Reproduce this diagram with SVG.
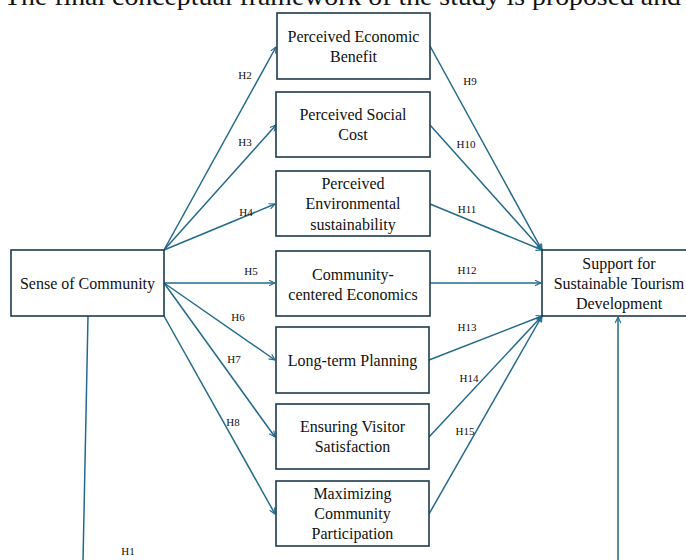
<svg xmlns="http://www.w3.org/2000/svg" width="686" height="560" viewBox="0 0 686 560">
<style>
.box{fill:#fff;stroke:#1d3a4d;stroke-width:1.6}
.t{font-family:"Liberation Serif","Times New Roman",serif;font-size:16px;fill:#111;text-anchor:middle}
.h{font-family:"Liberation Serif","Times New Roman",serif;font-size:11px;fill:#111;text-anchor:middle}
.c{stroke:#236a8c;stroke-width:1.5;fill:none;marker-end:url(#arr)}
.title{font-family:"Liberation Serif","Times New Roman",serif;font-size:25px;fill:#111}
</style>
<defs>
<marker id="arr" viewBox="0 0 10 10" refX="9.5" refY="5" markerWidth="7" markerHeight="7" markerUnits="userSpaceOnUse" orient="auto">
<path d="M1,1 L9.5,5 L1,9" fill="none" stroke="#236a8c" stroke-width="1.6"/>
</marker>
</defs>
<rect width="686" height="560" fill="#fff"/>
<text class="title" x="4" y="5" textLength="677" lengthAdjust="spacingAndGlyphs">The final conceptual framework of the study is proposed and</text>

<g id="connectors">
<line class="c" x1="88" y1="316" x2="83" y2="562" style="marker-end:none"/>
<line class="c" x1="618" y1="562" x2="618" y2="317"/>
<line class="c" x1="164" y1="250" x2="276" y2="47"/>
<line class="c" x1="164" y1="250" x2="276" y2="125"/>
<line class="c" x1="164" y1="250" x2="275" y2="204"/>
<line class="c" x1="164" y1="283" x2="275" y2="283"/>
<line class="c" x1="164" y1="283" x2="275" y2="360"/>
<line class="c" x1="164" y1="283" x2="275" y2="437"/>
<line class="c" x1="164" y1="316" x2="275" y2="514"/>
<line class="c" x1="430" y1="46" x2="542" y2="250"/>
<line class="c" x1="430" y1="125" x2="542" y2="250"/>
<line class="c" x1="430" y1="204" x2="542" y2="250"/>
<line class="c" x1="430" y1="283" x2="541" y2="283"/>
<line class="c" x1="429" y1="360" x2="542" y2="316"/>
<line class="c" x1="429" y1="437" x2="542" y2="316"/>
<line class="c" x1="429" y1="514" x2="542" y2="316"/>
</g>

<g id="labels">
<text class="h" x="128" y="555">H1</text>
<text class="h" x="245" y="79">H2</text>
<text class="h" x="245" y="146">H3</text>
<text class="h" x="246" y="216">H4</text>
<text class="h" x="251" y="275">H5</text>
<text class="h" x="238" y="321">H6</text>
<text class="h" x="234" y="363">H7</text>
<text class="h" x="233" y="426">H8</text>
<text class="h" x="470" y="85">H9</text>
<text class="h" x="466" y="148">H10</text>
<text class="h" x="467" y="213">H11</text>
<text class="h" x="467" y="274">H12</text>
<text class="h" x="467" y="331">H13</text>
<text class="h" x="469" y="382">H14</text>
<text class="h" x="465" y="435">H15</text>
</g>

<g id="sense">
<rect class="box" x="11" y="250" width="153" height="66"/>
<text class="t" x="87.5" y="289">Sense of Community</text>
</g>
<g id="peb">
<rect class="box" x="277" y="13" width="153" height="66"/>
<text class="t" x="353.5" y="42">Perceived Economic</text>
<text class="t" x="353.5" y="62">Benefit</text>
</g>
<g id="psc">
<rect class="box" x="276" y="92" width="154" height="65"/>
<text class="t" x="353" y="120">Perceived Social</text>
<text class="t" x="353" y="140">Cost</text>
</g>
<g id="pes">
<rect class="box" x="276" y="171" width="154" height="65"/>
<text class="t" x="353" y="189">Perceived</text>
<text class="t" x="353" y="209">Environmental</text>
<text class="t" x="353" y="230">sustainability</text>
</g>
<g id="cce">
<rect class="box" x="276" y="251" width="154" height="65"/>
<text class="t" x="353" y="280">Community-</text>
<text class="t" x="353" y="300">centered Economics</text>
</g>
<g id="ltp">
<rect class="box" x="276" y="327" width="153" height="66"/>
<text class="t" x="352.5" y="366">Long-term Planning</text>
</g>
<g id="evs">
<rect class="box" x="276" y="404" width="153" height="65"/>
<text class="t" x="352.5" y="432">Ensuring Visitor</text>
<text class="t" x="352.5" y="452">Satisfaction</text>
</g>
<g id="mcp">
<rect class="box" x="276" y="481" width="153" height="65"/>
<text class="t" x="352.5" y="499">Maximizing</text>
<text class="t" x="352.5" y="519">Community</text>
<text class="t" x="352.5" y="539">Participation</text>
</g>
<g id="sstd">
<rect class="box" x="542" y="250" width="155" height="66"/>
<text class="t" x="619" y="269">Support for</text>
<text class="t" x="619" y="289">Sustainable Tourism</text>
<text class="t" x="619" y="309">Development</text>
</g>
</svg>
